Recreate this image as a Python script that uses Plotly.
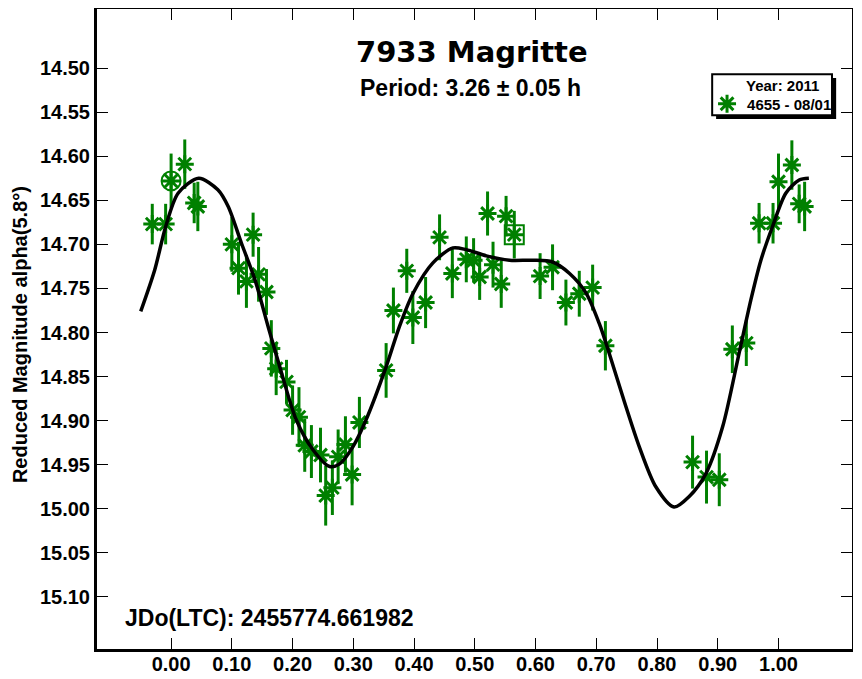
import plotly.graph_objects as go

# lightcurve data (phase, reduced magnitude, error)
phase = [-0.031, -0.009, 0.000, 0.0225, 0.038, 0.044, 0.100, 0.111, 0.124, 0.135,
         0.144, 0.157, 0.165, 0.173, 0.190, 0.200, 0.2105, 0.220, 0.231, 0.246,
         0.2545, 0.2655, 0.275, 0.287, 0.298, 0.310, 0.354, 0.366, 0.388, 0.398,
         0.419, 0.442, 0.463, 0.486, 0.498, 0.508, 0.521, 0.530, 0.5435, 0.5515,
         0.565, 0.6075, 0.628, 0.650, 0.672, 0.694, 0.715, 0.8585, 0.8815, 0.9025,
         0.924, 0.947, 0.968, 0.991, 1.000, 1.022, 1.034, 1.043]
mag = [14.677, 14.677, 14.628, 14.609, 14.653, 14.657, 14.700, 14.727, 14.742, 14.689,
       14.734, 14.754, 14.818, 14.841, 14.856, 14.888, 14.896, 14.928, 14.935, 14.939,
       14.985, 14.976, 14.941, 14.927, 14.961, 14.902, 14.843, 14.775, 14.730, 14.783,
       14.766, 14.692, 14.733, 14.717, 14.718, 14.737, 14.665, 14.723, 14.745, 14.668,
       14.689, 14.736, 14.726, 14.766, 14.756, 14.749, 14.815, 14.947, 14.964, 14.967,
       14.819, 14.812, 14.676, 14.676, 14.629, 14.610, 14.654, 14.657]
err = [0.023, 0.023, 0.031, 0.028, 0.023, 0.028, 0.031, 0.030, 0.030, 0.025,
       0.031, 0.026, 0.032, 0.030, 0.025, 0.028, 0.034, 0.030, 0.030, 0.031,
       0.034, 0.031, 0.031, 0.032, 0.035, 0.029, 0.031, 0.026, 0.025, 0.030,
       0.029, 0.026, 0.028, 0.026, 0.025, 0.026, 0.025, 0.026, 0.027, 0.023,
       0.027, 0.026, 0.026, 0.026, 0.026, 0.026, 0.028, 0.030, 0.030, 0.030,
       0.027, 0.026, 0.023, 0.023, 0.032, 0.028, 0.022, 0.028]

# highlighted points
circle_phase = [0.000]
circle_mag = [14.628]
square_phase = [0.565]
square_mag = [14.689]

# fourier fit curve
fit_phase = [-0.050, -0.027, -0.009, 0.0115, 0.0455, 0.077, 0.094, 0.116, 0.138, 0.160,
             0.179, 0.206, 0.2335, 0.261, 0.2775, 0.299, 0.321, 0.354, 0.376, 0.398,
             0.431, 0.464, 0.486, 0.519, 0.557, 0.595, 0.628, 0.656, 0.683, 0.705,
             0.7215, 0.746, 0.771, 0.798, 0.828, 0.853, 0.8805, 0.908, 0.935, 0.9545,
             0.971, 0.990, 1.012, 1.034, 1.050]
fit_mag = [14.776, 14.729, 14.680, 14.642, 14.625, 14.638, 14.657, 14.699, 14.740, 14.794,
           14.839, 14.899, 14.933, 14.952, 14.949, 14.930, 14.899, 14.839, 14.793, 14.756,
           14.721, 14.704, 14.706, 14.713, 14.718, 14.718, 14.720, 14.733, 14.755, 14.790,
           14.824, 14.878, 14.930, 14.975, 14.998, 14.986, 14.960, 14.907, 14.824, 14.763,
           14.718, 14.680, 14.642, 14.627, 14.625]

x_ticks = [0.0, 0.1, 0.2, 0.3, 0.4, 0.5, 0.6, 0.7, 0.8, 0.9, 1.0]
y_ticks = [14.50, 14.55, 14.60, 14.65, 14.70, 14.75, 14.80, 14.85, 14.90, 14.95, 15.00, 15.05, 15.10]

GREEN = "#008000"
FONT = "Liberation Sans, Arial, sans-serif"

fig = go.Figure()

fig.add_trace(go.Scatter(
    x=phase, y=mag, mode="markers", name="4655 - 08/01",
    marker=dict(symbol="asterisk-open", size=15, color=GREEN, line=dict(color=GREEN, width=3)),
    error_y=dict(type="data", array=err, color=GREEN, thickness=3, width=0),
))
fig.add_trace(go.Scatter(
    x=circle_phase, y=circle_mag, mode="markers", showlegend=False,
    marker=dict(symbol="circle-open", size=19, color=GREEN, line=dict(color=GREEN, width=2)),
))
fig.add_trace(go.Scatter(
    x=square_phase, y=square_mag, mode="markers", showlegend=False,
    marker=dict(symbol="square-open", size=19, color=GREEN, line=dict(color=GREEN, width=2)),
))
fig.add_trace(go.Scatter(
    x=fit_phase, y=fit_mag, mode="lines", showlegend=False,
    line=dict(color="black", width=3.5, shape="spline", smoothing=0.8),
))

axis_style = dict(
    showline=True, linecolor="black", linewidth=3, mirror="ticks",
    ticks="inside", ticklen=11, tickwidth=1, tickcolor="black",
    showgrid=False, zeroline=False, automargin=False,
    tickfont=dict(family=FONT, size=20, color="black", weight="bold"),
)

fig.update_xaxes(range=[-0.122, 1.121], tickvals=x_ticks, tickformat=".2f",
                 ticklabelstandoff=-5, **axis_style)
fig.update_yaxes(range=[15.159, 14.433], tickvals=y_ticks, tickformat=".2f", **axis_style)

# page body keeps its 8px margin, so the plot area is placed relative to that offset
fig.update_layout(
    width=845, height=679,
    margin=dict(l=89, r=1, t=1, b=38),
    paper_bgcolor="white", plot_bgcolor="white",
    showlegend=True,
    legend=dict(x=0.808, y=0.8516, xanchor="left", yanchor="middle",
                bgcolor="rgba(0,0,0,0)", borderwidth=0,
                font=dict(family=FONT, size=15, color="black", weight="bold")),
    shapes=[
        dict(type="rect", xref="paper", yref="paper", x0=0.820, x1=0.979, y0=0.828, y1=0.892,
             fillcolor="black", line=dict(width=0), layer="above"),
        dict(type="rect", xref="paper", yref="paper", x0=0.8148, x1=0.9735, y0=0.834, y1=0.898,
             fillcolor="white", line=dict(color="black", width=2), layer="above"),
    ],
    annotations=[
        dict(text="7933 Magritte", xref="paper", yref="paper", x=0.4967, y=0.9328,
             showarrow=False, xanchor="center", yanchor="middle",
             font=dict(family="DejaVu Sans", size=29, color="black", weight="bold")),
        dict(text="Period: 3.26 ± 0.05 h", xref="paper", yref="paper", x=0.4947, y=0.8766,
             showarrow=False, xanchor="center", yanchor="middle",
             font=dict(family=FONT, size=23, color="black", weight="bold")),
        dict(text="JDo(LTC): 2455774.661982", xref="paper", yref="paper", x=0.0344, y=0.0492,
             showarrow=False, xanchor="left", yanchor="middle",
             font=dict(family=FONT, size=23, color="black", weight="bold")),
        dict(text="Year: 2011", xref="paper", yref="paper", x=0.857, y=0.881,
             showarrow=False, xanchor="left", yanchor="middle",
             font=dict(family=FONT, size=15, color="black", weight="bold")),
        dict(text="Reduced Magnitude alpha(5.8°)", xref="paper", yref="paper", x=-0.1019, y=0.4906,
             showarrow=False, xanchor="center", yanchor="middle", textangle=-90,
             font=dict(family=FONT, size=20, color="black", weight="bold")),
    ],
)

fig.write_html("out.html")
